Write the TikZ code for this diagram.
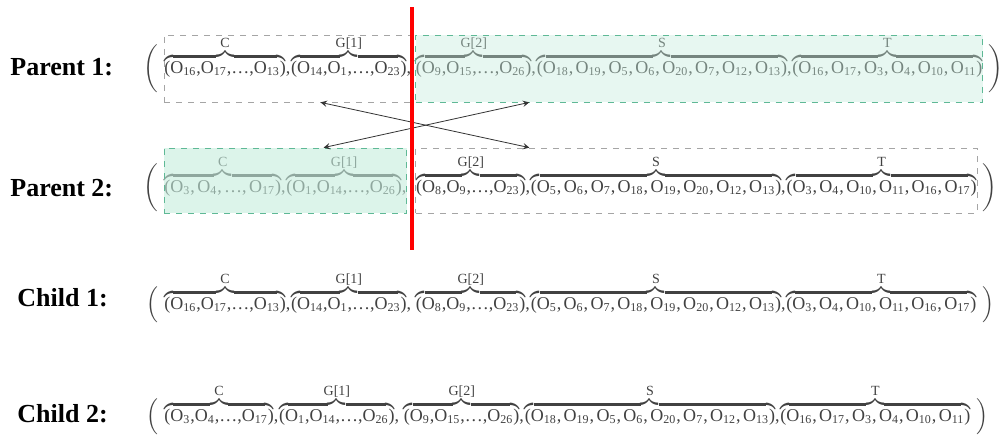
\documentclass[tikz,border=0pt]{standalone}
\usepackage{fontspec}
\setmainfont{Liberation Serif}
\usetikzlibrary{positioning, fit, arrows}
\definecolor{seqgray}{RGB}{65,65,65}
\definecolor{boxgreen}{RGB}{196,236,220}
\definecolor{boxedge}{RGB}{95,185,150}
\definecolor{boxgray}{RGB}{165,165,165}
\newcommand{\ob}[1]{O\textsubscript{#1}}
\newcommand{\cm}{,\kern1.2pt}
\makeatletter
\newcommand{\grp}[2]{$\mathop{\vbox{\m@th\ialign{##\crcr\noalign{\kern2\p@}\downbracefill\crcr\noalign{\kern1.5\p@\nointerlineskip}\hfil\hbox{#2}\hfil\crcr}}}\limits^{\hbox{\scriptsize #1}}$}
\makeatother
\newcommand{\openp}[2]{$\left(\vrule height #1 depth #2 width 0pt\right.$}
\newcommand{\closep}[2]{$\left.\vrule height #1 depth #2 width 0pt\right)$}

\begin{document}
\begin{tikzpicture}[
                x=0.5pt, y=-0.5pt,
                lab/.style={font=\fontsize{13}{15}\selectfont\bfseries, inner sep=0pt, anchor=west},
                seq/.style={font=\fontsize{9}{11}\selectfont, text=seqgray, inner sep=0pt},
                paren/.style={font=\fontsize{9}{11}\selectfont, text=seqgray, inner sep=0pt},
                oldbox/.style={draw=boxgray, dashed, inner sep=0pt},
                newbox/.style={draw=boxedge, dashed, fill=boxgreen, fill opacity=0.5, inner sep=0pt},
                xover/.style={<->, >=stealth, thin, black!80},
                cutline/.style={red, line width=1.6pt}
            ]%
            \useasboundingbox (0,0) rectangle (1006,441);
            %
            % === Parent 1 ===
            \node[lab] (lp1) at (10,67) {Parent 1:};
            \node[seq, anchor=base west] (p1c) at (164,73) {\grp{C}{(\ob{16},\ob{17},\ldots,\ob{13})},};
            \node[seq, base right=0pt of p1c] (p1g1) {\grp{G[1]}{(\ob{14},\ob{1},\ldots,\ob{23})},};
            \node[seq, base right=2pt of p1g1] (p1g2) {\grp{G[2]}{(\ob{9},\ob{15},\ldots,\ob{26})},};
            \node[seq, base right=0pt of p1g2] (p1s) {\grp{S}{(\ob{18}\cm\ob{19}\cm\ob{5}\cm\ob{6}\cm\ob{20}\cm\ob{7}\cm\ob{12}\cm\ob{13})},};
            \node[seq, base right=0pt of p1s] (p1t) {\grp{T}{(\ob{16}\cm\ob{17}\cm\ob{3}\cm\ob{4}\cm\ob{10}\cm\ob{11})}};
            \node[paren, base left=1.5pt of p1c] (p1l) {\openp{12pt}{10pt}};
            \node[paren, base right=1.5pt of p1t] (p1r) {\closep{12pt}{10pt}};
            %
            % === Parent 2 ===
            \node[lab] (lp2) at (10,188) {Parent 2:};
            \node[seq, anchor=base west] (p2c) at (164,192) {\grp{C}{(\ob{3}\cm\ob{4}\cm\ldots\cm\ob{17})},};
            \node[seq, base right=0pt of p2c] (p2g1) {\grp{G[1]}{(\ob{1},\ob{14},\ldots,\ob{26})},};
            \node[seq, base right=4.5pt of p2g1] (p2g2) {\grp{G[2]}{(\ob{8},\ob{9},\ldots,\ob{23})},};
            \node[seq, base right=0pt of p2g2] (p2s) {\grp{S}{(\ob{5}\cm\ob{6}\cm\ob{7}\cm\ob{18}\cm\ob{19}\cm\ob{20}\cm\ob{12}\cm\ob{13})},};
            \node[seq, base right=0pt of p2s] (p2t) {\grp{T}{(\ob{3}\cm\ob{4}\cm\ob{10}\cm\ob{11}\cm\ob{16}\cm\ob{17})}};
            \node[paren, base left=1.5pt of p2c] (p2l) {\openp{12pt}{10pt}};
            \node[paren, base right=1.5pt of p2t] (p2r) {\closep{12pt}{10pt}};
            %
            % === Child 1 ===
            \node[lab] (lc1) at (17,298) {Child 1:};
            \node[seq, anchor=base west] (c1c) at (164,309) {\grp{C}{(\ob{16},\ob{17},\ldots,\ob{13})},};
            \node[seq, base right=0pt of c1c] (c1g1) {\grp{G[1]}{(\ob{14},\ob{1},\ldots,\ob{23})},};
            \node[seq, base right=2pt of c1g1] (c1g2) {\grp{G[2]}{(\ob{8},\ob{9},\ldots,\ob{23})},};
            \node[seq, base right=0pt of c1g2] (c1s) {\grp{S}{(\ob{5}\cm\ob{6}\cm\ob{7}\cm\ob{18}\cm\ob{19}\cm\ob{20}\cm\ob{12}\cm\ob{13})},};
            \node[seq, base right=0pt of c1s] (c1t) {\grp{T}{(\ob{3}\cm\ob{4}\cm\ob{10}\cm\ob{11}\cm\ob{16}\cm\ob{17})}};
            \node[paren, base left=1.5pt of c1c] (c1l) {\openp{9pt}{7pt}};
            \node[paren, base right=1.5pt of c1t] (c1r) {\closep{9pt}{7pt}};
            %
            % === Child 2 ===
            \node[lab] (lc2) at (17,414) {Child 2:};
            \node[seq, anchor=base west] (c2c) at (164,421) {\grp{C}{(\ob{3},\ob{4},\ldots,\ob{17})},};
            \node[seq, base right=0pt of c2c] (c2g1) {\grp{G[1]}{(\ob{1},\ob{14},\ldots,\ob{26})},};
            \node[seq, base right=2pt of c2g1] (c2g2) {\grp{G[2]}{(\ob{9},\ob{15},\ldots,\ob{26})},};
            \node[seq, base right=0pt of c2g2] (c2s) {\grp{S}{(\ob{18}\cm\ob{19}\cm\ob{5}\cm\ob{6}\cm\ob{20}\cm\ob{7}\cm\ob{12}\cm\ob{13})},};
            \node[seq, base right=0pt of c2s] (c2t) {\grp{T}{(\ob{16}\cm\ob{17}\cm\ob{3}\cm\ob{4}\cm\ob{10}\cm\ob{11})}};
            \node[paren, base left=1.5pt of c2c] (c2l) {\openp{9pt}{7pt}};
            \node[paren, base right=1.5pt of c2t] (c2r) {\closep{9pt}{7pt}};
            %
            % Segment boxes of the parents
            \coordinate (p1top) at ([yshift=19pt]p1c.base west);
            \coordinate (p1cut) at ([yshift=-14.5pt]p1g1.base east);
            \coordinate (p1end) at ([yshift=-14.5pt]p1t.base east);
            \coordinate (p2top) at ([yshift=22pt]p2c.base west);
            \coordinate (p2cut) at ([yshift=-10.5pt]p2g1.base east);
            \coordinate (p2end) at ([yshift=-10.5pt]p2t.base east);
            \node[oldbox, fit=(p1top) (p1cut)] (p1gray) {};
            \node[newbox, fill opacity=0.4, fit=(p1top -| p1g2.west) (p1end)] (p1green) {};
            \node[newbox, fill opacity=0.6, fit=(p2top) (p2cut)] (p2green) {};
            \node[oldbox, fit=(p2top -| p2g2.west) (p2end)] (p2gray) {};
            %
            % Exchange of the segments
            \draw[xover] ([xshift=78.5pt]p1gray.south west) -- ([xshift=57pt]p2gray.north west);
            \draw[xover] ([xshift=80pt]p2green.north west) -- ([xshift=57pt]p1green.south west);
            %
            % Crossover point
            \draw[cutline] (412,7) -- (412,250);
        \end{tikzpicture}
\end{document}
